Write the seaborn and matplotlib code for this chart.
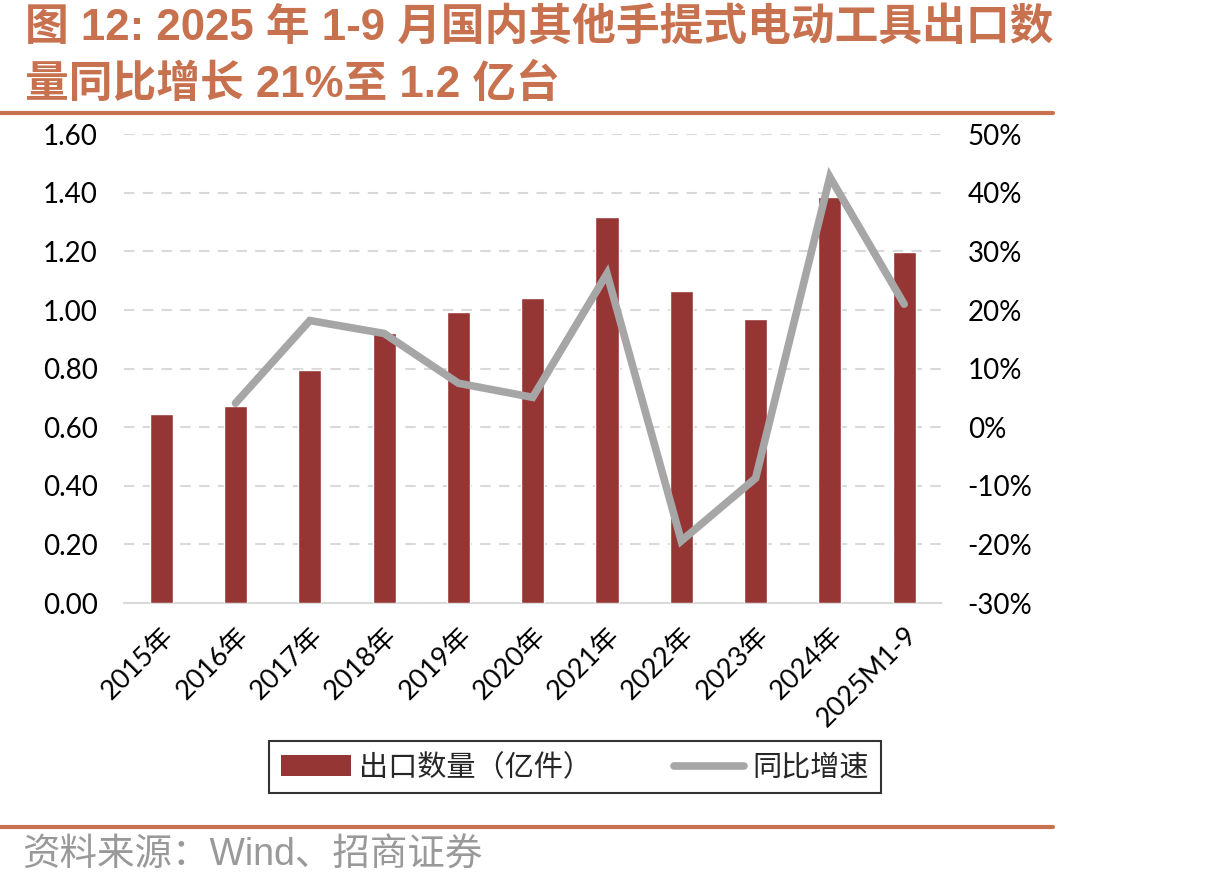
import numpy as np
import pandas as pd
import matplotlib
matplotlib.use("Agg")
import matplotlib.pyplot as plt
import seaborn as sns
from matplotlib.patches import Patch
from matplotlib.lines import Line2D
from matplotlib.ticker import FuncFormatter

categories = ["2015年", "2016年", "2017年", "2018年", "2019年", "2020年",
              "2021年", "2022年", "2023年", "2024年", "2025M1-9"]
export_qty = [0.645, 0.672, 0.795, 0.920, 0.992, 1.042, 1.316, 1.064, 0.969, 1.387, 1.197]
yoy_growth = [np.nan, 4.1, 18.2, 16.0, 7.5, 5.1, 26.2, -19.4, -8.7, 42.7, 21.0]
left_ticks = [0.0, 0.2, 0.4, 0.6, 0.8, 1.0, 1.2, 1.4, 1.6]
right_ticks = [-30, -20, -10, 0, 10, 20, 30, 40, 50]

title_line1 = "图 12: 2025 年 1-9 月国内其他手提式电动工具出口数"
title_line2 = "量同比增长 21%至 1.2 亿台"
source_text = "资料来源：Wind、招商证券"
legend_labels = ["出口数量（亿件）", "同比增速"]

BAR_COLOR = "#963634"
LINE_COLOR = "#A6A6A6"
ACCENT = "#C8714F"
GRID = "#D9D9D9"

sns.set_theme(style="white")
plt.rcParams["font.family"] = ["Lato", "Noto Sans CJK SC", "DejaVu Sans"]

df = pd.DataFrame({"cat": categories, "qty": export_qty, "yoy": yoy_growth})
df["pos"] = np.arange(len(df))

fig = plt.figure(figsize=(12.09, 8.88), dpi=100)
ax = fig.add_axes([0.1026, 0.3209, 0.676, 0.528])

sns.barplot(data=df, x="cat", y="qty", color=BAR_COLOR, width=0.31,
            saturation=1, ax=ax, zorder=3)
ax.set_ylim(0, 1.6)
ax.set_yticks(left_ticks)
ax.yaxis.set_major_formatter(FuncFormatter(lambda v, p: f"{v:.2f}"))
ax.set_xlim(-0.5, len(categories) - 0.5)
ax.set_xlabel("")
ax.set_ylabel("")
for s in ["left", "right", "top"]:
    ax.spines[s].set_visible(False)
ax.spines["bottom"].set_color(GRID)
ax.spines["bottom"].set_linewidth(1.5)
ax.yaxis.grid(True, linestyle=(0, (5, 4)), color=GRID, linewidth=1.5, zorder=0)
ax.set_axisbelow(True)
ax.tick_params(axis="y", labelsize=20, colors="black", length=0, pad=19)
ax.tick_params(axis="x", length=0, labelsize=19.5, pad=14)
for lab in ax.get_xticklabels():
    lab.set_rotation(45)
    lab.set_ha("right")
    lab.set_rotation_mode("anchor")
    lab.set_color("black")

ax2 = ax.twinx()
sub = df.dropna(subset=["yoy"])
sns.lineplot(data=sub, x="pos", y="yoy", color=LINE_COLOR, linewidth=5.5,
             ax=ax2, zorder=4, solid_capstyle="round", solid_joinstyle="miter")
ax2.set_ylim(-30, 50)
ax2.set_yticks(right_ticks)
ax2.yaxis.set_major_formatter(FuncFormatter(lambda v, p: f"{int(v)}%"))
ax2.set_xlim(-0.5, len(categories) - 0.5)
ax2.set_ylabel("")
ax2.set_xlabel("")
for s in ["left", "right", "top", "bottom"]:
    ax2.spines[s].set_visible(False)
ax2.tick_params(axis="y", labelsize=20, colors="black", length=0, pad=19)
ax2.grid(False)

handles = [Patch(facecolor=BAR_COLOR, edgecolor="none"),
           Line2D([0], [0], color=LINE_COLOR, linewidth=5.5, solid_capstyle="round")]
leg = fig.legend(handles, legend_labels, loc="center",
                 bbox_to_anchor=(575 / 1209, 1 - 767 / 888), ncol=2,
                 frameon=True, fancybox=False, fontsize=21,
                 handlelength=2.4, handleheight=0.7, handletextpad=0.3,
                 columnspacing=2.8, borderpad=0.4, borderaxespad=0)
leg.get_frame().set_edgecolor("black")
leg.get_frame().set_linewidth(1.5)

fig.text(25 / 1209, 1 - 28 / 888, title_line1, fontsize=31.5, fontweight="bold",
         color=ACCENT, va="center", ha="left",
         family=["Liberation Sans", "Noto Sans CJK SC"])
fig.text(25 / 1209, 1 - 85 / 888, title_line2, fontsize=31.5, fontweight="bold",
         color=ACCENT, va="center", ha="left",
         family=["Liberation Sans", "Noto Sans CJK SC"])

fig.add_artist(Line2D([0, 1053 / 1209], [1 - 113 / 888, 1 - 113 / 888],
                      transform=fig.transFigure, color=ACCENT, linewidth=3))
fig.add_artist(Line2D([0, 1053 / 1209], [1 - 827 / 888, 1 - 827 / 888],
                      transform=fig.transFigure, color=ACCENT, linewidth=3))

fig.text(22 / 1209, 1 - 856 / 888, source_text, fontsize=27, color="#999999",
         va="center", ha="left", family=["Liberation Sans", "Noto Sans CJK SC"])

fig.savefig("out.png", dpi=100)
